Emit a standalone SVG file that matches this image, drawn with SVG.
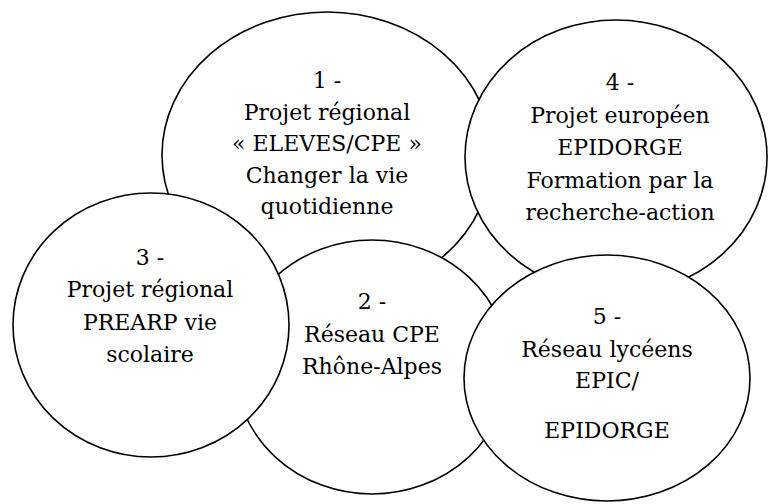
<svg xmlns="http://www.w3.org/2000/svg" width="768" height="504" viewBox="0 0 768 504">
<style>
.n{fill:#fff;stroke:#000;stroke-width:1.6}
.t{font-family:'DejaVu Serif','Liberation Serif',serif;font-size:22px;fill:#000;text-anchor:middle}
</style>
<rect width="768" height="504" fill="#fff"/>
<g id="node1">
<ellipse class="n" cx="327" cy="155" rx="165" ry="143"/>
<g class="t">
<text x="327" y="88">1 -</text>
<text x="327" y="119.5">Projet régional</text>
<text x="327" y="151">« ELEVES/CPE »</text>
<text x="327" y="182.5">Changer la vie</text>
<text x="327" y="214">quotidienne</text>
</g>
</g>
<g id="node4">
<ellipse class="n" cx="616" cy="157" rx="151" ry="137"/>
<g class="t">
<text x="620" y="90">4 -</text>
<text x="620" y="123">Projet européen</text>
<text x="620" y="155">EPIDORGE</text>
<text x="620" y="188">Formation par la</text>
<text x="620" y="220">recherche-action</text>
</g>
</g>
<g id="node2">
<ellipse class="n" cx="372" cy="367" rx="137" ry="127"/>
<g class="t">
<text x="372" y="309">2 -</text>
<text x="372" y="342">Réseau CPE</text>
<text x="372" y="374">Rhône-Alpes</text>
</g>
</g>
<g id="node3">
<ellipse class="n" cx="151" cy="325" rx="138" ry="132"/>
<g class="t">
<text x="150" y="265">3 -</text>
<text x="150" y="297">Projet régional</text>
<text x="150" y="330">PREARP vie</text>
<text x="150" y="362">scolaire</text>
</g>
</g>
<g id="node5">
<ellipse class="n" cx="607" cy="378" rx="143" ry="123"/>
<g class="t">
<text x="607" y="324">5 -</text>
<text x="607" y="357">Réseau lycéens</text>
<text x="607" y="388">EPIC/</text>
<text x="607" y="438">EPIDORGE</text>
</g>
</g>
<g id="connectors"></g>
</svg>
